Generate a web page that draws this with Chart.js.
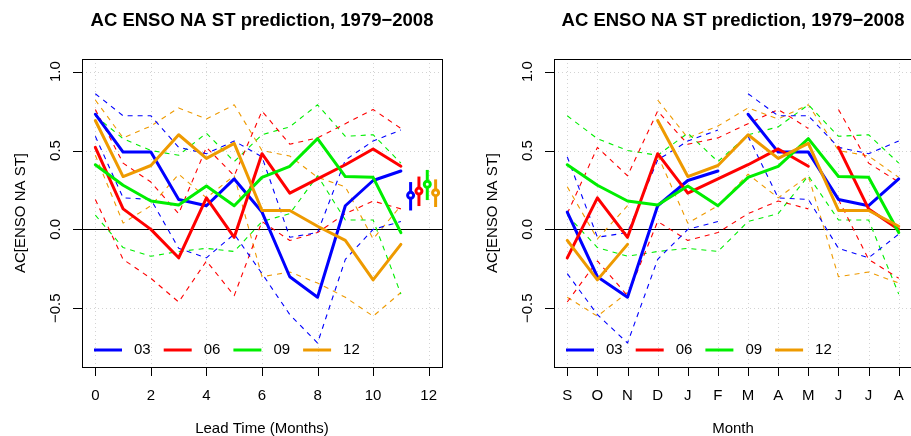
<!DOCTYPE html>
<html>
<head>
<meta charset="utf-8">
<script src="https://cdn.jsdelivr.net/npm/chart.js@4.4.1/dist/chart.umd.min.js"></script>
<style>
  html, body { margin: 0; padding: 0; background: #fff; width: 911px; height: 436px; overflow: hidden; }
  canvas { position: absolute; top: 0; }
  #leadChart { left: 0; }
  #monthChart { left: 455px; }
</style>
</head>
<body>
<canvas id="leadChart" width="455" height="436"></canvas>
<canvas id="monthChart" width="457" height="436"></canvas>
<script>
// ---- data -------------------------------------------------------------
const seriesNames  = ['03', '06', '09', '12'];          // initialisation month
const seriesColors = ['#0000FF', '#FF0000', '#00EE00', '#EE9A00'];
const leadTimes    = [0, 1, 2, 3, 4, 5, 6, 7, 8, 9, 10, 11];
const leadTicks    = [0, 2, 4, 6, 8, 10, 12];
const monthLabels  = ['S', 'O', 'N', 'D', 'J', 'F', 'M', 'A', 'M', 'J', 'J', 'A'];
const yTicks       = [-0.5, 0, 0.5, 1.0];
const yTickLabels  = ['\u22120.5', '0.0', '0.5', '1.0'];

// anomaly correlation by lead time, with lower / upper confidence bounds
const ac03   = [0.73, 0.49, 0.49, 0.19, 0.15, 0.32, 0.11, -0.30, -0.43, 0.15, 0.31, 0.37];
const ac03Lo = [0.59, 0.20, 0.19, -0.12, -0.18, -0.03, -0.28, -0.54, -0.72, -0.19, 0.00, 0.05];
const ac03Hi = [0.86, 0.72, 0.72, 0.52, 0.48, 0.56, 0.46, -0.05, -0.02, 0.44, 0.56, 0.63];

const ac06   = [0.52, 0.13, 0.00, -0.18, 0.20, -0.05, 0.48, 0.23, 0.32, 0.41, 0.51, 0.40];
const ac06Lo = [0.19, -0.19, -0.31, -0.46, -0.20, -0.42, 0.05, -0.07, -0.02, 0.10, 0.18, 0.13];
const ac06Hi = [0.76, 0.42, 0.30, 0.10, 0.52, 0.34, 0.75, 0.54, 0.58, 0.67, 0.76, 0.64];

const ac09   = [0.41, 0.28, 0.18, 0.155, 0.275, 0.15, 0.33, 0.40, 0.575, 0.335, 0.33, -0.02];
const ac09Lo = [0.09, -0.115, -0.17, -0.14, -0.12, -0.14, 0.05, 0.10, 0.34, 0.06, 0.06, -0.41];
const ac09Hi = [0.72, 0.575, 0.50, 0.47, 0.61, 0.43, 0.60, 0.65, 0.79, 0.59, 0.60, 0.42];

const ac12   = [0.69, 0.335, 0.405, 0.60, 0.45, 0.545, 0.12, 0.12, 0.02, -0.07, -0.32, -0.095];
const ac12Lo = [0.47, 0.04, 0.15, 0.35, 0.20, 0.34, -0.30, -0.27, -0.34, -0.43, -0.55, -0.40];
const ac12Hi = [0.82, 0.58, 0.655, 0.77, 0.70, 0.79, 0.50, 0.465, 0.33, 0.27, -0.06, 0.15];

// overall skill of each initialisation, with its range
const skillMid = [0.216, 0.243, 0.286, 0.233];
const skillLo  = [0.12, 0.148, 0.186, 0.142];
const skillHi  = [0.30, 0.335, 0.377, 0.317];

const titleText  = 'AC ENSO NA ST prediction, 1979\u22122008';
const yTitleText = 'AC[ENSO NA ST]';

// ---- helpers -----------------------------------------------------------
const acMid = [ac03, ac06, ac09, ac12];
const acLo  = [ac03Lo, ac06Lo, ac09Lo, ac12Lo];
const acHi  = [ac03Hi, ac06Hi, ac09Hi, ac12Hi];

const FONT = '"Liberation Sans", Arial, Helvetica, sans-serif';
const Y_MIN = -0.872, Y_MAX = 1.08;

// position of an initialisation month on the S..A axis
const startIndex = name => (parseInt(name, 10) - 9 + 12) % 12;

function lineSet(points, color, dashed, order) {
  return {
    data: points,
    borderColor: color,
    backgroundColor: color,
    borderWidth: dashed ? 1.1 : 3,
    borderDash: dashed ? [5, 5] : [],
    borderCapStyle: dashed ? 'butt' : 'round',
    borderJoinStyle: 'round',
    pointRadius: 0,
    tension: 0,
    fill: false,
    spanGaps: false,
    order: order
  };
}

// values by lead time -> points by target month (break where the year wraps)
function onMonthAxis(values, name) {
  const s = startIndex(name);
  const pts = [];
  monthLabels.forEach((m, idx) => {
    if (idx === s && s > 0) pts.push({ x: idx + 0.5, y: null });
    pts.push({ x: idx + 1, y: values[(idx - s + 12) % 12] });
  });
  return pts;
}

const crisp = v => Math.round(v) + 0.5;

function makeFrame(cfg) {
  return {
    id: 'rFrame',
    beforeDatasetsDraw(chart) {
      const { ctx, chartArea: a, scales: { x, y } } = chart;
      ctx.save();
      ctx.lineWidth = 1;
      ctx.strokeStyle = '#d3d3d3';
      ctx.setLineDash([1, 3]);
      ctx.beginPath();
      cfg.xTicks.forEach(t => {
        const px = crisp(x.getPixelForValue(t.v));
        ctx.moveTo(px, a.top); ctx.lineTo(px, a.bottom);
      });
      yTicks.forEach(v => {
        const py = crisp(y.getPixelForValue(v));
        ctx.moveTo(a.left, py); ctx.lineTo(a.right, py);
      });
      ctx.stroke();
      ctx.setLineDash([]);
      ctx.strokeStyle = '#000';
      const p0 = crisp(y.getPixelForValue(0));
      ctx.beginPath(); ctx.moveTo(a.left, p0); ctx.lineTo(a.right, p0); ctx.stroke();
      ctx.restore();
    },
    afterDatasetsDraw(chart) {
      const { ctx, chartArea: a, scales: { x, y } } = chart;
      ctx.save();
      // frame
      ctx.lineWidth = 1;
      ctx.strokeStyle = '#000';
      ctx.strokeRect(crisp(a.left), crisp(a.top), Math.round(a.right - a.left), Math.round(a.bottom - a.top));
      // tick marks
      ctx.beginPath();
      cfg.xTicks.forEach(t => {
        const px = crisp(x.getPixelForValue(t.v));
        ctx.moveTo(px, a.bottom); ctx.lineTo(px, a.bottom + 9);
      });
      yTicks.forEach(v => {
        const py = crisp(y.getPixelForValue(v));
        ctx.moveTo(a.left, py); ctx.lineTo(a.left - 9, py);
      });
      ctx.stroke();
      // tick labels
      ctx.fillStyle = '#000';
      ctx.font = '15px ' + FONT;
      ctx.textAlign = 'center';
      ctx.textBaseline = 'alphabetic';
      cfg.xTicks.forEach(t => ctx.fillText(t.text, x.getPixelForValue(t.v), a.bottom + 32.5));
      ctx.textBaseline = 'middle';
      yTicks.forEach((v, i) => {
        ctx.save();
        ctx.translate(a.left - 26, y.getPixelForValue(v));
        ctx.rotate(-Math.PI / 2);
        ctx.fillText(yTickLabels[i], 0, 0);
        ctx.restore();
      });
      // axis titles
      ctx.textBaseline = 'alphabetic';
      ctx.fillText(cfg.xTitle, (a.left + a.right) / 2, a.bottom + 66);
      ctx.save();
      ctx.translate(a.left - 61, (a.top + a.bottom) / 2);
      ctx.rotate(-Math.PI / 2);
      ctx.textBaseline = 'middle';
      ctx.fillText(yTitleText, 0, 0);
      ctx.restore();
      // main title
      ctx.font = 'bold 18.5px ' + FONT;
      ctx.fillText(titleText, (a.left + a.right) / 2, a.top - 33);
      // legend
      ctx.font = '15px ' + FONT;
      ctx.textAlign = 'left';
      ctx.textBaseline = 'middle';
      const ly = a.bottom - 17;
      seriesNames.forEach((name, k) => {
        const x0 = a.left + 12 + k * 69.7;
        ctx.strokeStyle = seriesColors[k];
        ctx.lineWidth = 3;
        ctx.lineCap = 'butt';
        ctx.beginPath(); ctx.moveTo(x0, ly); ctx.lineTo(x0 + 28, ly); ctx.stroke();
        ctx.fillStyle = '#000';
        ctx.fillText(name, x0 + 40, ly);
      });
      ctx.restore();
    }
  };
}

function baseOptions(xMin, xMax, padding) {
  return {
    responsive: false,
    animation: false,
    events: [],
    layout: { padding: padding },
    scales: {
      x: { type: 'linear', min: xMin, max: xMax, display: false },
      y: { type: 'linear', min: Y_MIN, max: Y_MAX, display: false }
    },
    plugins: { legend: { display: false }, tooltip: { enabled: false } }
  };
}

// ---- left panel: skill against lead time ------------------------------
const leadSets = [];
seriesNames.forEach((name, k) => {
  const c = seriesColors[k];
  leadSets.push(lineSet(leadTimes.map((l, i) => ({ x: l, y: acLo[k][i] })), c, true, 10));
  leadSets.push(lineSet(leadTimes.map((l, i) => ({ x: l, y: acHi[k][i] })), c, true, 10));
});
seriesNames.forEach((name, k) => {
  leadSets.push(lineSet(leadTimes.map((l, i) => ({ x: l, y: acMid[k][i] })), seriesColors[k], false, 4 - k));
});
seriesNames.forEach((name, k) => {
  const bx = 11.35 + 0.3 * k;
  const c = seriesColors[k];
  leadSets.push(Object.assign(lineSet([{ x: bx, y: skillLo[k] }, { x: bx, y: skillHi[k] }], c, false, 0), { borderCapStyle: 'butt' }));
  leadSets.push({
    data: [{ x: bx, y: skillMid[k] }],
    showLine: false,
    pointRadius: 3,
    pointBorderWidth: 3,
    pointBorderColor: c,
    pointBackgroundColor: '#ffffff',
    borderColor: c,
    backgroundColor: '#ffffff',
    order: -1
  });
});

new Chart(document.getElementById('leadChart'), {
  type: 'line',
  data: { datasets: leadSets },
  options: baseOptions(-0.48, 12.48, { top: 59, bottom: 69, left: 82, right: 13 }),
  plugins: [makeFrame({
    xTicks: leadTicks.map(v => ({ v: v, text: String(v) })),
    xTitle: 'Lead Time (Months)'
  })]
});

// ---- right panel: skill against target month --------------------------
const monthSets = [];
seriesNames.forEach((name, k) => {
  const c = seriesColors[k];
  monthSets.push(lineSet(onMonthAxis(acLo[k], name), c, true, 10));
  monthSets.push(lineSet(onMonthAxis(acHi[k], name), c, true, 10));
});
seriesNames.forEach((name, k) => {
  monthSets.push(lineSet(onMonthAxis(acMid[k], name), seriesColors[k], false, 4 - k));
});

new Chart(document.getElementById('monthChart'), {
  type: 'line',
  data: { datasets: monthSets },
  options: baseOptions(0.56, 12.44, { top: 59, bottom: 69, left: 99, right: 0 }),
  plugins: [makeFrame({
    xTicks: monthLabels.map((m, i) => ({ v: i + 1, text: m })),
    xTitle: 'Month'
  })]
});
</script>
</body>
</html>
